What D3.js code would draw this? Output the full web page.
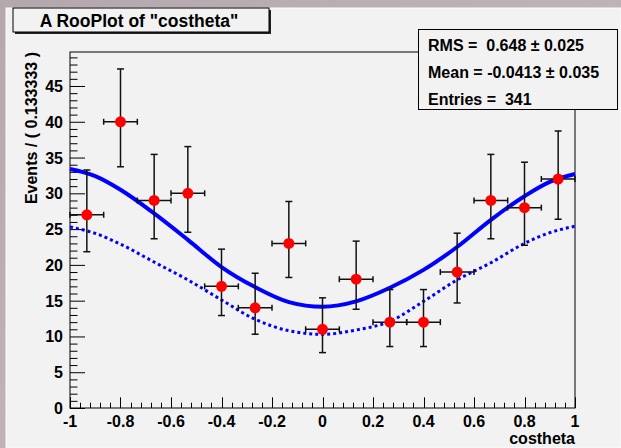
<!DOCTYPE html>
<html>
<head>
<meta charset="utf-8">
<script src="https://cdn.jsdelivr.net/npm/d3@7"></script>
<style>
    body { margin: 0; }
    svg { display: block; font-family: "Liberation Sans", Arial, Helvetica, sans-serif; font-weight: bold; }
    text { white-space: pre; }
</style>
</head>
<body>
<div id="chart"></div>
<script>
// binned data (15 bins of 0.133333 over [-1, 1])
const binCenters = [-0.9333, -0.8, -0.6667, -0.5333, -0.4, -0.2667, -0.1333, 0, 0.1333, 0.2667, 0.4, 0.5333, 0.6667, 0.8, 0.9333];
const counts = [27, 40, 29, 30, 17, 14, 23, 11, 18, 12, 12, 19, 29, 28, 32];
const errLow = [5.16, 6.29, 5.35, 5.44, 4.08, 3.69, 4.76, 3.26, 4.20, 3.41, 3.41, 4.32, 5.35, 5.26, 5.62];
const errHigh = [6.26, 7.38, 6.44, 6.53, 5.20, 4.83, 5.86, 4.40, 5.32, 4.55, 4.55, 5.43, 6.44, 6.35, 6.71];
const binHalfWidth = 0.0667;

// fitted pdf curves
const curveX = [-1, -0.9, -0.8, -0.667, -0.533, -0.4, -0.267, -0.133, 0, 0.133, 0.267, 0.4, 0.533, 0.667, 0.8, 0.9, 1];
const totalY = [33.4, 32.4, 30.5, 27.2, 23.5, 19.7, 16.9, 14.8, 14.15, 14.9, 16.8, 19.3, 22.5, 26.3, 29.6, 31.6, 32.7];
const componentY = [25.3, 24.4, 22.9, 20.4, 17.9, 15.1, 12.4, 10.8, 10.3, 10.9, 12.1, 14.9, 17.9, 20.3, 23.0, 24.5, 25.4];

const xTicks = [-1, -0.8, -0.6, -0.4, -0.2, 0, 0.2, 0.4, 0.6, 0.8, 1];
const yTicks = [0, 5, 10, 15, 20, 25, 30, 35, 40, 45];

const statLines = ['RMS =  0.648 \u00b1 0.025', 'Mean = -0.0413 \u00b1 0.035', 'Entries =  341'];

const width = 621, height = 448;
const frame = {left: 70, right: 575, top: 52, bottom: 408};

const svg = d3.select('#chart').append('svg')
    .attr('width', width)
    .attr('height', height);

// backdrop + canvas
const grad = svg.append('defs').append('linearGradient')
    .attr('id', 'bg').attr('x1', 0).attr('y1', 0).attr('x2', 1).attr('y2', 1);
grad.append('stop').attr('offset', 0).attr('stop-color', '#b4a7ad');
grad.append('stop').attr('offset', 0.5).attr('stop-color', '#bfb3b8');
grad.append('stop').attr('offset', 1).attr('stop-color', '#ada0a7');
svg.append('rect').attr('width', width).attr('height', height).attr('fill', 'url(#bg)');
svg.append('rect')
    .attr('x', 6).attr('y', 8)
    .attr('width', width - 6).attr('height', height - 8)
    .attr('fill', '#f2f2f2')
    .attr('stroke', '#fbfbfb');

const x = d3.scaleLinear().domain([-1, 1]).range([frame.left, frame.right]);
const y = d3.scaleLinear().domain([0, 49.75]).range([frame.bottom, frame.top]);

// frame
svg.append('rect')
    .attr('x', frame.left).attr('y', frame.top)
    .attr('width', frame.right - frame.left).attr('height', frame.bottom - frame.top)
    .attr('fill', '#f2f2f2')
    .attr('stroke', 'black');

// ticks (inside the frame, like ROOT)
const yMinor = d3.range(0, 50, 1);
svg.append('g').selectAll('line').data(yMinor).join('line')
    .attr('x1', frame.left).attr('x2', d => frame.left + (d % 5 === 0 ? 15 : 7.5))
    .attr('y1', d => y(d) + 0.5).attr('y2', d => y(d) + 0.5)
    .attr('stroke', 'black');
const xMinor = d3.range(0, 51).map(i => -1 + i * 0.04);
svg.append('g').selectAll('line').data(xMinor).join('line')
    .attr('x1', d => Math.round(x(d)) + 0.5).attr('x2', d => Math.round(x(d)) + 0.5)
    .attr('y1', frame.bottom)
    .attr('y2', (d, i) => frame.bottom - (i % 5 === 0 ? 10.7 : 5.3))
    .attr('stroke', 'black');

svg.append('g').selectAll('text').data(yTicks).join('text')
    .attr('x', 63).attr('y', d => y(d) + 6)
    .attr('text-anchor', 'end')
    .attr('font-size', 16)
    .text(d => d);
svg.append('g').selectAll('text').data(xTicks).join('text')
    .attr('x', d => x(d)).attr('y', 427)
    .attr('text-anchor', 'middle')
    .attr('font-size', 16)
    .text(d => d);

// axis titles
svg.append('text')
    .attr('transform', `translate(37,${frame.top}) rotate(-90)`)
    .attr('text-anchor', 'end')
    .attr('font-size', 16)
    .text('Events / ( 0.133333 )');
svg.append('text')
    .attr('x', frame.right).attr('y', 444)
    .attr('text-anchor', 'end')
    .attr('font-size', 16)
    .text('costheta');

// curves
const line = d3.line().x(d => x(d[0])).y(d => y(d[1])).curve(d3.curveMonotoneX);
svg.append('path')
    .attr('d', line(d3.zip(curveX, componentY)))
    .attr('fill', 'none')
    .attr('stroke', '#0000ff')
    .attr('stroke-width', 3)
    .attr('stroke-dasharray', '3,3');
svg.append('path')
    .attr('d', line(d3.zip(curveX, totalY)))
    .attr('fill', 'none')
    .attr('stroke', '#0000ff')
    .attr('stroke-width', 4);

// data points with error bars
const pts = binCenters.map((c, i) => ({c: c, n: counts[i], lo: errLow[i], hi: errHigh[i]}));
const g = svg.append('g').attr('stroke', '#111').attr('stroke-width', 1.5);
pts.forEach(p => {
    const cx = x(p.c), cy = y(p.n);
    const x0 = x(p.c - binHalfWidth), x1 = x(p.c + binHalfWidth);
    const yTop = y(p.n + p.hi), yBot = y(p.n - p.lo);
    g.append('line').attr('x1', x0).attr('x2', x1).attr('y1', cy).attr('y2', cy);
    g.append('line').attr('x1', cx).attr('x2', cx).attr('y1', yTop).attr('y2', yBot);
    g.append('line').attr('x1', x0).attr('x2', x0).attr('y1', cy - 3).attr('y2', cy + 3);
    g.append('line').attr('x1', x1).attr('x2', x1).attr('y1', cy - 3).attr('y2', cy + 3);
    g.append('line').attr('x1', cx - 3.5).attr('x2', cx + 3.5).attr('y1', yTop).attr('y2', yTop);
    g.append('line').attr('x1', cx - 3.5).attr('x2', cx + 3.5).attr('y1', yBot).attr('y2', yBot);
});
svg.append('g').selectAll('circle').data(pts).join('circle')
    .attr('cx', d => x(d.c)).attr('cy', d => y(d.n))
    .attr('r', 5.5)
    .attr('fill', '#ff0000');

// title box with shadow
svg.append('rect').attr('x', 15).attr('y', 10).attr('width', 256).attr('height', 24).attr('fill', '#222');
svg.append('rect').attr('x', 13).attr('y', 8).attr('width', 256).attr('height', 24)
    .attr('fill', '#f2f2f2').attr('stroke', 'black');
svg.append('text')
    .attr('x', 139).attr('y', 27)
    .attr('text-anchor', 'middle')
    .attr('font-size', 17.5)
    .text('A RooPlot of "costheta"');

// stats box
svg.append('rect').attr('x', 418.5).attr('y', 29.5).attr('width', 199).attr('height', 80)
    .attr('fill', '#f2f2f2').attr('stroke', 'black');
svg.append('g').selectAll('text').data(statLines).join('text')
    .attr('x', 428).attr('y', (d, i) => 51 + i * 27)
    .attr('font-size', 16)
    .text(d => d);
</script>
</body>
</html>
